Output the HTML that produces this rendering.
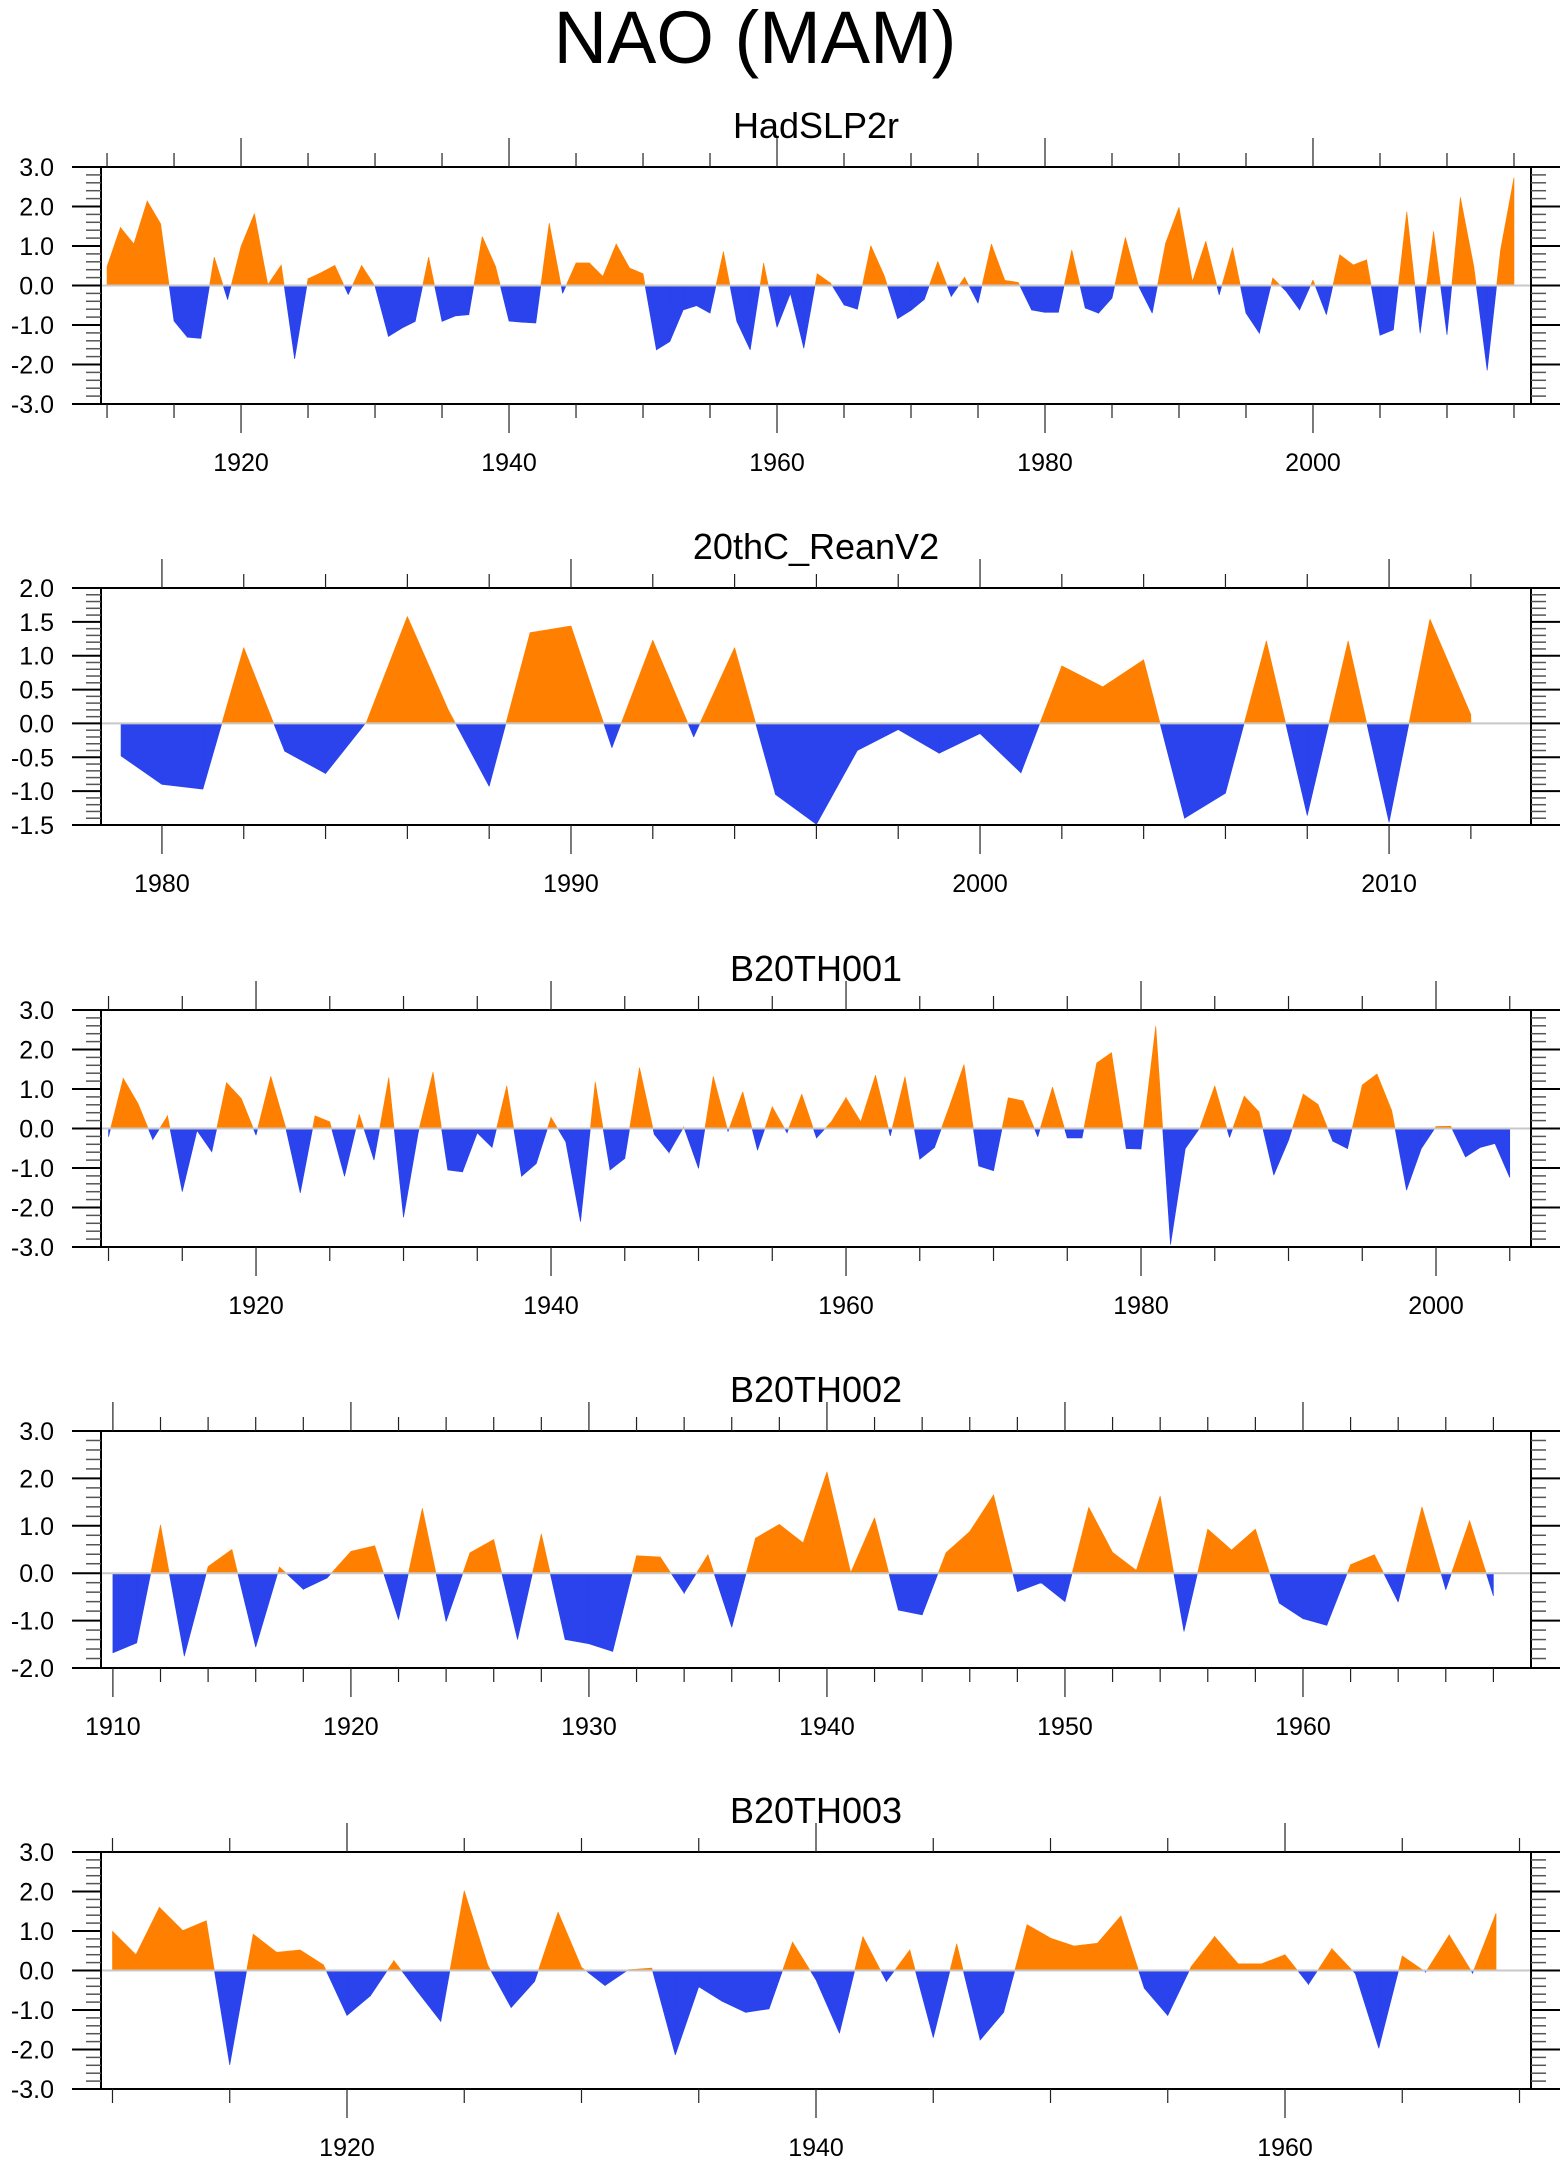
<!DOCTYPE html>
<html><head><meta charset="utf-8"><style>
html,body{margin:0;padding:0;background:#fff}
svg{display:block}
text{font-family:"Liberation Sans",Arial,sans-serif;fill:#000}
</style></head><body>
<svg id="chart" width="1560" height="2165" viewBox="0 0 1560 2165" xmlns="http://www.w3.org/2000/svg">
<text x="755" y="63" font-size="74" text-anchor="middle">NAO (MAM)</text>
</svg>
<script>
const hadStart = 1910;
const hadValues = [0.48,1.47,1.05,2.14,1.56,-0.9,-1.31,-1.34,0.72,-0.36,0.99,1.82,0.02,0.52,-1.86,0.17,0.33,0.51,-0.23,0.51,-0.02,-1.29,-1.08,-0.91,0.72,-0.91,-0.77,-0.74,1.24,0.48,-0.9,-0.93,-0.95,1.58,-0.2,0.57,0.57,0.23,1.05,0.44,0.3,-1.63,-1.42,-0.62,-0.51,-0.7,0.86,-0.91,-1.63,0.57,-1.06,-0.2,-1.59,0.3,0.06,-0.49,-0.6,1.01,0.25,-0.84,-0.63,-0.35,0.61,-0.28,0.21,-0.45,1.05,0.13,0.08,-0.62,-0.68,-0.68,0.9,-0.57,-0.7,-0.32,1.22,-0.03,-0.7,1.07,1.98,0.1,1.12,-0.24,0.96,-0.7,-1.21,0.19,-0.15,-0.62,0.14,-0.74,0.78,0.52,0.65,-1.26,-1.12,1.87,-1.21,1.37,-1.25,2.23,0.48,-2.15,0.9,2.73];
const reanStart = 1979;
const reanValues = [-0.48,-0.9,-0.97,1.12,-0.41,-0.74,0.02,1.58,0.2,-0.93,1.34,1.44,-0.36,1.23,-0.2,1.12,-1.05,-1.49,-0.4,-0.09,-0.44,-0.15,-0.73,0.85,0.54,0.94,-1.4,-1.03,1.22,-1.36,1.22,-1.46,1.54,0.13];
const b1Start = 1910;
const b1Values = [-0.21,1.27,0.63,-0.28,0.32,-1.6,-0.05,-0.59,1.16,0.76,-0.17,1.32,0.04,-1.63,0.32,0.17,-1.21,0.36,-0.8,1.29,-2.25,-0.1,1.43,-1.05,-1.1,-0.11,-0.48,1.08,-1.21,-0.89,0.28,-0.34,-2.36,1.18,-1.05,-0.76,1.54,-0.15,-0.61,0.04,-1.01,1.32,-0.08,0.93,-0.55,0.55,-0.11,0.87,-0.24,0.17,0.78,0.17,1.35,-0.19,1.31,-0.78,-0.48,0.55,1.62,-0.95,-1.07,0.78,0.7,-0.21,1.05,-0.24,-0.24,1.66,1.92,-0.51,-0.52,2.59,-2.94,-0.51,0.02,1.08,-0.23,0.82,0.42,-1.18,-0.3,0.87,0.61,-0.32,-0.51,1.1,1.38,0.45,-1.56,-0.51,0.05,0.06,-0.72,-0.48,-0.38,-1.24];
const b2Start = 1910;
const b2Values = [-1.68,-1.47,1.02,-1.75,0.14,0.5,-1.56,0.13,-0.34,-0.1,0.46,0.58,-0.98,1.37,-1.02,0.43,0.71,-1.4,0.83,-1.4,-1.49,-1.65,0.37,0.34,-0.42,0.39,-1.14,0.74,1.03,0.64,2.14,0.01,1.17,-0.78,-0.88,0.43,0.88,1.65,-0.39,-0.2,-0.6,1.39,0.44,0.06,1.63,-1.23,0.93,0.49,0.93,-0.63,-0.96,-1.1,0.18,0.39,-0.61,1.4,-0.35,1.11,-0.48];
const b3Start = 1910;
const b3Values = [0.99,0.4,1.6,1.01,1.26,-2.39,0.92,0.46,0.52,0.14,-1.14,-0.64,0.25,-0.53,-1.29,2.02,0.14,-0.94,-0.28,1.48,0.08,-0.38,0.02,0.06,-2.14,-0.41,-0.78,-1.06,-0.97,0.72,-0.24,-1.59,0.86,-0.28,0.52,-1.7,0.68,-1.76,-1.06,1.16,0.82,0.62,0.69,1.38,-0.45,-1.14,0.1,0.86,0.17,0.17,0.4,-0.35,0.55,-0.08,-1.97,0.37,-0.04,0.9,-0.07,1.45];
const panelTitles = ["HadSLP2r","20thC_ReanV2","B20TH001","B20TH002","B20TH003"];
const yTickLabels1 = ["-3.0","-2.0","-1.0","0.0","1.0","2.0","3.0"];
const yTickLabels2 = ["-1.5","-1.0","-0.5","0.0","0.5","1.0","1.5","2.0"];
const yTickLabels4 = ["-2.0","-1.0","0.0","1.0","2.0","3.0"];

const NS = "http://www.w3.org/2000/svg";
const svg = document.getElementById('chart');
function mk(tag, attrs, parent){
  const e = document.createElementNS(NS, tag);
  for (const k in attrs) e.setAttribute(k, attrs[k]);
  (parent||svg).appendChild(e);
  return e;
}
const X0 = 101, X1 = 1531;
const panels = [
  {start:hadStart, vals:hadValues, top:167, xmin:1909.55, xmax:2016.27, ymin:-3, ymax:3, yLabels:yTickLabels1, yMajor:1, yMinor:0.2, xMajor:20, xMinor:5, name:'hadslp2r'},
  {start:reanStart, vals:reanValues, top:588, xmin:1978.51, xmax:2013.47, ymin:-1.5, ymax:2, yLabels:yTickLabels2, yMajor:0.5, yMinor:0.1, xMajor:10, xMinor:2, name:'20thc-reanv2'},
  {start:b1Start, vals:b1Values, top:1010, xmin:1909.49, xmax:2006.44, ymin:-3, ymax:3, yLabels:yTickLabels1, yMajor:1, yMinor:0.2, xMajor:20, xMinor:5, name:'b20th001'},
  {start:b2Start, vals:b2Values, top:1431, xmin:1909.5, xmax:1969.58, ymin:-2, ymax:3, yLabels:yTickLabels4, yMajor:1, yMinor:0.2, xMajor:10, xMinor:2, name:'b20th002'},
  {start:b3Start, vals:b3Values, top:1852, xmin:1909.51, xmax:2070.49-100, ymin:-3, ymax:3, yLabels:yTickLabels1, yMajor:1, yMinor:0.2, xMajor:20, xMinor:5, name:'b20th003'}
];
const H = 237;
panels.forEach((p, pi) => {
  const g = mk('g', {});
  
  
  const xs = y => X0 + (y - p.xmin) / (p.xmax - p.xmin) * (X1 - X0);
  const ys = v => p.top + H - (v - p.ymin) / (p.ymax - p.ymin) * H;
  const bot = p.top + H;
  const t = mk('text', {x:816, y:p.top - 29, 'font-size':36, 'text-anchor':'middle'}, g);
  t.textContent = panelTitles[pi];
  
  
  // fills
  const z = ys(0);
  const pts = p.vals.map((v,i)=>({x:xs(p.start+i), v:v}));
  const pos = [], neg = [];
  for (let i=0;i<pts.length-1;i++){
    const a=pts[i], b=pts[i+1];
    const segs = [];
    if ((a.v>=0&&b.v>=0)||(a.v<=0&&b.v<=0)) segs.push([a,b]);
    else { const f=a.v/(a.v-b.v); const c={x:a.x+(b.x-a.x)*f, v:0}; segs.push([a,c]); segs.push([c,b]); }
    segs.forEach(([s,e])=>{
      const d = `M${s.x},${z}L${s.x},${ys(s.v)}L${e.x},${ys(e.v)}L${e.x},${z}Z`;
      if (s.v+e.v>0) pos.push(d); else if (s.v+e.v<0) neg.push(d);
    });
  }
  const pp = mk('path', {d:pos.join(''), fill:'#ff8000', stroke:'#ff8000', 'stroke-width':0.6}, g);
  
  
  const np = mk('path', {d:neg.join(''), fill:'#2a43ec', stroke:'#2a43ec', 'stroke-width':0.6}, g);
  
  
  const zl = mk('line', {x1:X0, x2:X1, y1:z, y2:z, stroke:'#c8c8c8', 'stroke-width':2}, g);
  
  
  const box = mk('rect', {x:X0, y:p.top, width:X1-X0, height:H, fill:'none', stroke:'#000', 'stroke-width':2}, g);
  
  
  // y ticks
  const nMin = Math.round((p.ymax-p.ymin)/p.yMinor);
  const ratio = Math.round(p.yMajor/p.yMinor);
  for (let k=0;k<=nMin;k++){
    const v = p.ymin + k*p.yMinor, y = ys(v), maj = k%ratio===0;
    const L = maj?29:15;
    mk('line', {x1:X0-L, x2:X0, y1:y, y2:y, stroke:maj?'#000':'#555', 'stroke-width':maj?2:1.5}, g);
    mk('line', {x1:X1, x2:X1+L, y1:y, y2:y, stroke:maj?'#000':'#555', 'stroke-width':maj?2:1.5}, g);
  }
  p.yLabels.forEach((lab,i)=>{
    const tl = mk('text', {x:54, y:ys(p.ymin+i*p.yMajor)+9, 'font-size':25, 'text-anchor':'end'}, g);
    tl.textContent = lab;
    
    
  });
  // x ticks
  for (let yr=Math.ceil(p.xmin/p.xMinor)*p.xMinor; yr<=p.xmax; yr+=p.xMinor){
    const x = xs(yr), maj = yr%p.xMajor===0, L = maj?29:14;
    mk('line', {x1:x, x2:x, y1:p.top-L, y2:p.top, stroke:'#222', 'stroke-width':1.2}, g);
    mk('line', {x1:x, x2:x, y1:bot, y2:bot+L, stroke:'#222', 'stroke-width':1.2}, g);
    if (maj){
      const tl = mk('text', {x:x, y:bot+67, 'font-size':25, 'text-anchor':'middle'}, g);
      tl.textContent = String(yr);
      
      
    }
  }
});
</script>
</body></html>
